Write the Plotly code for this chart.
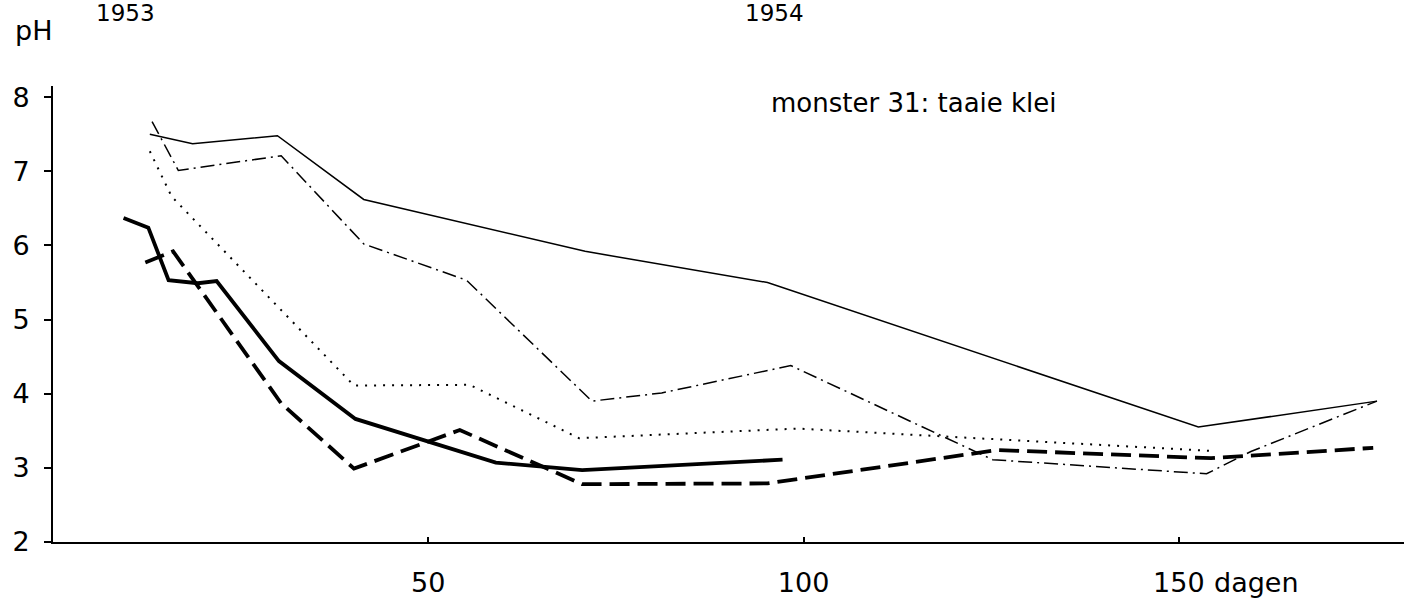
import plotly.graph_objects as go

# pH-verloop in de tijd (dagen), monster 31: taaie klei
dagen_dun = [12.9, 18.6, 29.9, 41.4, 70.9, 95.2, 152.6, 176.4]
ph_dun = [7.50, 7.37, 7.48, 6.62, 5.92, 5.50, 3.55, 3.90]

dagen_streeppunt = [13.2, 16.7, 30.4, 41.4, 55.1, 71.8, 81.1, 98.3, 125.2, 153.7, 159.6, 176.4]
ph_streeppunt = [7.67, 7.01, 7.21, 6.02, 5.53, 3.90, 4.01, 4.38, 3.11, 2.92, 3.22, 3.90]

dagen_punt = [12.9, 14.3, 15.8, 40.1, 55.5, 70.1, 99.2, 154.1]
ph_punt = [7.27, 6.97, 6.66, 4.11, 4.12, 3.40, 3.53, 3.23]

dagen_dik = [9.4, 12.7, 15.4, 19.3, 21.8, 30.1, 40.3, 59.0, 70.5, 97.2]
ph_dik = [6.37, 6.24, 5.53, 5.49, 5.52, 4.44, 3.66, 3.07, 2.97, 3.11]

dagen_streep = [12.3, 16.0, 30.4, 40.1, 54.2, 70.5, 95.2, 125.8, 154.3, 175.9]
ph_streep = [5.77, 5.92, 3.87, 2.99, 3.51, 2.78, 2.79, 3.24, 3.13, 3.27]

x_ticks = [50, 100, 150]
x_ticktext = ["50", "100", "150"]
y_ticks = [2, 3, 4, 5, 6, 7, 8]

FONT = "DejaVu Sans"
INK = "black"

fig = go.Figure()

series = [
    (dagen_dun, ph_dun, dict(color=INK, width=1.5, dash="solid")),
    (dagen_streeppunt, ph_streeppunt, dict(color=INK, width=1.5, dash="14px,5px,2px,5px")),
    (dagen_punt, ph_punt, dict(color=INK, width=2, dash="2px,7px")),
    (dagen_dik, ph_dik, dict(color=INK, width=3.8, dash="solid")),
    (dagen_streep, ph_streep, dict(color=INK, width=3.8, dash="20px,8px")),
]
for xs, ys, line in series:
    fig.add_trace(go.Scatter(x=xs, y=ys, mode="lines", line=line,
                             showlegend=False, hoverinfo="skip"))

fig.update_layout(
    width=1417, height=610,
    margin=dict(l=44, r=13, t=86, b=53),
    paper_bgcolor="white", plot_bgcolor="white",
    font=dict(family=FONT, size=27, color=INK),
    xaxis=dict(
        range=[0, 180], showgrid=False, zeroline=False,
        showline=True, linecolor=INK, linewidth=2,
        tickmode="array", tickvals=x_ticks, ticktext=x_ticktext,
        ticks="inside", ticklen=5, tickwidth=1.5, tickcolor=INK,
        ticklabelstandoff=16,
        tickfont=dict(family=FONT, size=27, color=INK),
    ),
    yaxis=dict(
        range=[2, 8.15], showgrid=False, zeroline=False,
        showline=True, linecolor=INK, linewidth=2,
        tickmode="array", tickvals=y_ticks,
        ticks="outside", ticklen=7, tickwidth=1.5, tickcolor=INK,
        ticklabelstandoff=9,
        tickfont=dict(family=FONT, size=27, color=INK),
    ),
)

annotations = [
    dict(text="monster 31: taaie klei", xref="x", yref="y", x=95.4, y=7.92,
         xanchor="left", yanchor="middle", font=dict(size=26)),
    dict(text="pH", xref="paper", yref="paper", x=-0.0146, y=1.122,
         xanchor="center", yanchor="middle", font=dict(size=27)),
    dict(text="1953", xref="paper", yref="paper", x=0.0537, y=1.16,
         xanchor="center", yanchor="middle", font=dict(size=23)),
    dict(text="1954", xref="paper", yref="paper", x=0.534, y=1.16,
         xanchor="center", yanchor="middle", font=dict(size=23)),
    dict(text="dagen", xref="x", yref="paper", x=154.4, y=-0.088,
         xanchor="left", yanchor="middle", font=dict(size=27)),
]
for a in annotations:
    fig.add_annotation(showarrow=False, **a)

fig.write_html("out.html")
